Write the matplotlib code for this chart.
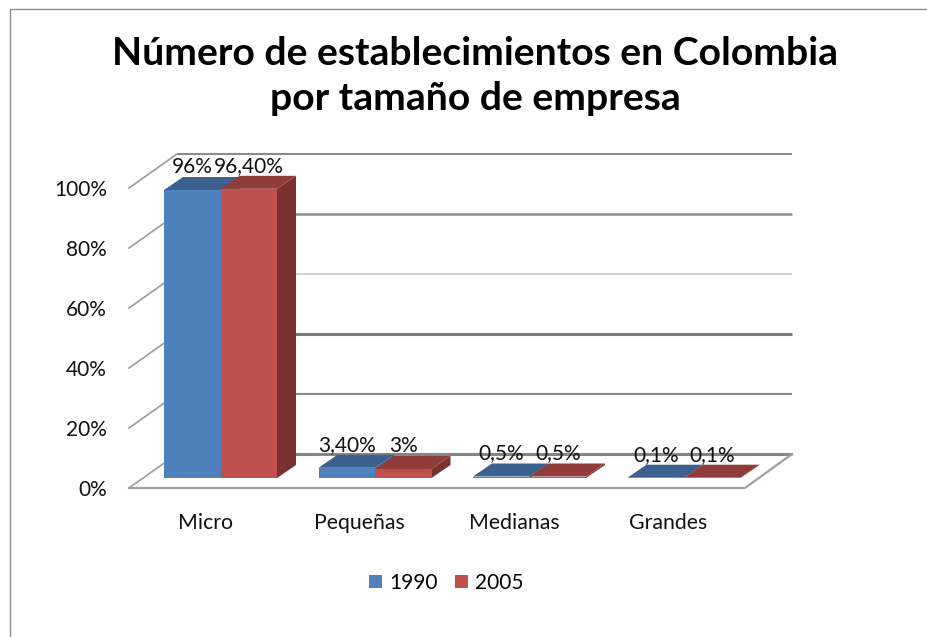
import matplotlib
matplotlib.use('Agg')
import matplotlib.pyplot as plt
from matplotlib.patches import Polygon, Rectangle, Patch

plt.rcParams['font.family'] = ['Lato', 'DejaVu Sans']

categorias = ['Micro', 'Pequeñas', 'Medianas', 'Grandes']
series = ['1990', '2005']
valores_1990 = [96, 3.4, 0.5, 0.1]
valores_2005 = [96.4, 3, 0.5, 0.1]
etiquetas_1990 = ['96%', '3,40%', '0,5%', '0,1%']
etiquetas_2005 = ['96,40%', '3%', '0,5%', '0,1%']
ticks = [0, 20, 40, 60, 80, 100]
titulo = 'Número de establecimientos en Colombia\npor tamaño de empresa'

# escala: 154.5 px por categoria, 3 px por punto porcentual
SX = 154.5
SY = 3.0
X0 = 220.5
Y0 = 478.0

fig = plt.figure(figsize=(9.27, 6.37), dpi=100)
ax = fig.add_axes([0, 0, 1, 1])
ax.set_xlim(-X0 / SX, (927 - X0) / SX)
ax.set_ylim((Y0 - 637) / SY, Y0 / SY)
ax.axis('off')

# marco del grafico: solo se ve arriba y a la izquierda
borde_x = (9.5 - X0) / SX
borde_y = (Y0 - 8.5) / SY
ax.plot([borde_x, borde_x, ax.get_xlim()[1]], [ax.get_ylim()[0], borde_y, borde_y], color='#8c8c8c', lw=1.0, zorder=1)

# paredes: frente y fondo del piso
x_front_l = (129 - X0) / SX
x_front_r = (745 - X0) / SX
x_back_l = (177 - X0) / SX
x_back_r = (792 - X0) / SX
y_front = -10 / SY
y_back = 24 / SY

anchos = [2.2, 1.6, 2.2, 1.1, 1.8, 1.5]
colores = ['#858585', '#8c8c8c', '#7a7a7a', '#c6c6c6', '#8c8c8c', '#8c8c8c']
for t, lw, c in zip(ticks, anchos, colores):
    ax.plot([x_back_l, x_back_r], [t + y_back, t + y_back], color=c, lw=lw, zorder=2, solid_capstyle='butt')
    ax.plot([x_front_l, x_back_l], [t + y_front, t + y_back], color='#9a9a9a', lw=1.2, zorder=2)
    ax.text(x_front_l - 22 / SX, t + y_front - 2 / SY, f'{t}%', ha='right', va='center', fontsize=15, color='#111111', zorder=6)

# piso
ax.plot([x_front_l, x_front_r, x_back_r], [y_front, y_front, y_back], color='#a0a0a0', lw=1.6, zorder=2)

# barras 3d
dx = 19 / SX
dy = 13 / SY
w = 56.5 / SX
estilos = [('#4f81bd', '#3c618e', '#3c618e'), ('#c0504d', '#903c3a', '#7a3230')]


def barra(x, v, cols, z):
    frente, arriba, lado = cols
    ax.add_patch(Polygon([(x + w, 0), (x + w + dx, dy), (x + w + dx, v + dy), (x + w, v)], fc=lado, ec='none', zorder=z))
    ax.add_patch(Polygon([(x, v), (x + dx, v + dy), (x + w + dx, v + dy), (x + w, v)], fc=arriba, ec='none', zorder=z))
    ax.add_patch(Rectangle((x, 0), w, v, fc=frente, ec='none', zorder=z + 0.1))


for i in range(len(categorias)):
    barra(i - w, valores_1990[i], estilos[0], 3)
    barra(i, valores_2005[i], estilos[1], 4)
    ax.text(i - w / 2, valores_1990[i] + 23 / SY, etiquetas_1990[i], ha='center', va='center', fontsize=15, color='#111111', zorder=7)
    ax.text(i + w / 2, valores_2005[i] + 23 / SY, etiquetas_2005[i], ha='center', va='center', fontsize=15, color='#111111', zorder=7)
    ax.text(i - 15.5 / SX, -45 / SY, categorias[i], ha='center', va='center', fontsize=15.3, color='#111111')

ax.text((475 - X0) / SX, (Y0 - 76) / SY, titulo, ha='center', va='center', fontsize=28.2, fontweight='bold',
        color='black', linespacing=1.34, zorder=8)

handles = [Patch(fc=estilos[0][0], label=series[0]), Patch(fc=estilos[1][0], label=series[1])]
ax.legend(handles=handles, ncol=2, frameon=False, loc='center', bbox_to_anchor=(446.5 / 927, 1 - 583 / 637),
          fontsize=15, handlelength=0.62, handleheight=0.62, handletextpad=0.35, columnspacing=0.8)

fig.savefig('out.png', dpi=100)
